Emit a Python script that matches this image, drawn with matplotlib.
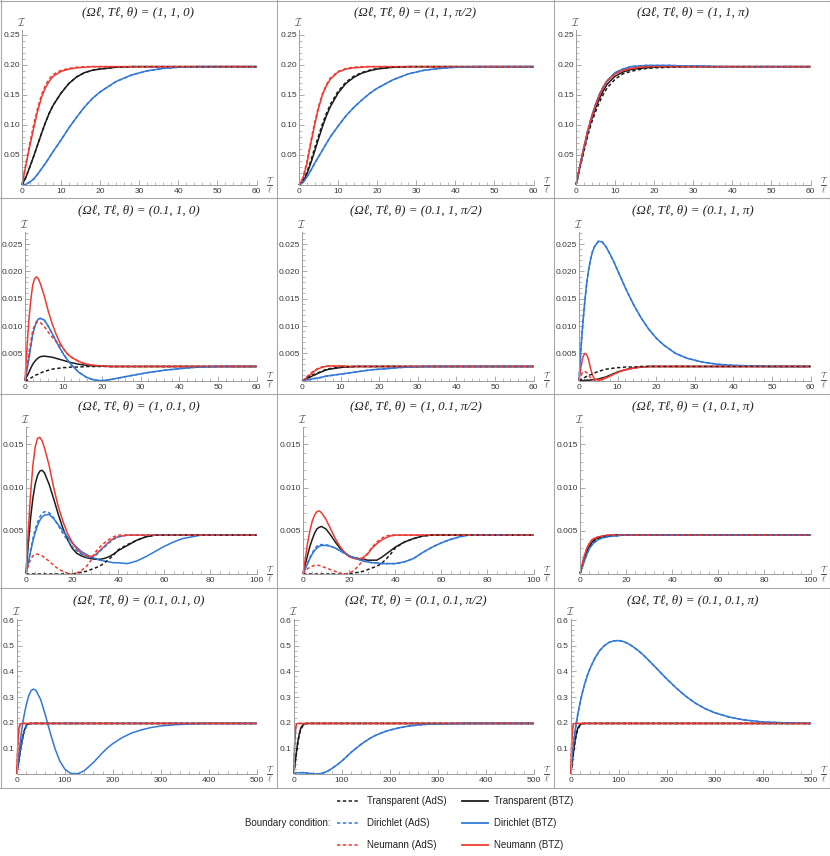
import matplotlib
matplotlib.use("Agg")
import matplotlib.pyplot as plt
from matplotlib.lines import Line2D
from matplotlib.ticker import MultipleLocator, FuncFormatter

plt.rcParams['mathtext.fontset'] = 'cm'
plt.rcParams['font.family'] = ['Liberation Sans', 'DejaVu Sans']

# ---------------- data ----------------
series_names = ['Transparent (AdS)', 'Transparent (BTZ)', 'Dirichlet (AdS)',
                'Dirichlet (BTZ)', 'Neumann (AdS)', 'Neumann (BTZ)']

titles = ['(Ωℓ, Tℓ, θ) = (1, 1, 0)', '(Ωℓ, Tℓ, θ) = (1, 1, π/2)', '(Ωℓ, Tℓ, θ) = (1, 1, π)',
          '(Ωℓ, Tℓ, θ) = (0.1, 1, 0)', '(Ωℓ, Tℓ, θ) = (0.1, 1, π/2)', '(Ωℓ, Tℓ, θ) = (0.1, 1, π)',
          '(Ωℓ, Tℓ, θ) = (1, 0.1, 0)', '(Ωℓ, Tℓ, θ) = (1, 0.1, π/2)', '(Ωℓ, Tℓ, θ) = (1, 0.1, π)',
          '(Ωℓ, Tℓ, θ) = (0.1, 0.1, 0)', '(Ωℓ, Tℓ, θ) = (0.1, 0.1, π/2)', '(Ωℓ, Tℓ, θ) = (0.1, 0.1, π)']

# row 1 (Tℓ = 1, Ωℓ = 1)
tau_r1 = [0, 1, 2, 3, 4, 5, 6, 7, 8, 10, 12, 14, 16, 18, 20, 24, 28, 32, 36, 40, 45, 50, 60]

a_trans_ads = [0, .013, .030, .048, .067, .086, .104, .120, .133, .153, .169, .180, .187, .191, .193, .196, .197, .197, .197, .197, .197, .197, .197]
a_trans_btz = [0, .013, .030, .048, .067, .086, .104, .120, .133, .153, .169, .180, .187, .191, .193, .196, .197, .197, .197, .197, .197, .197, .197]
a_dir_ads = [0, .001, .005, .010, .018, .027, .036, .046, .056, .075, .095, .113, .130, .144, .155, .172, .183, .190, .194, .196, .197, .197, .197]
a_dir_btz = [0, .001, .005, .010, .018, .027, .036, .046, .056, .075, .095, .113, .130, .144, .155, .172, .183, .190, .194, .196, .197, .197, .197]
a_neu_ads = [0, .036, .070, .101, .128, .150, .166, .177, .184, .191, .194, .196, .197, .197, .197, .197, .197, .197, .197, .197, .197, .197, .197]
a_neu_btz = [0, .033, .065, .095, .123, .146, .162, .173, .181, .189, .193, .195, .196, .197, .197, .197, .197, .197, .197, .197, .197, .197, .197]

b_trans_ads = [0, .006, .021, .040, .061, .082, .102, .119, .134, .156, .171, .181, .187, .191, .194, .196, .197, .197, .197, .197, .197, .197, .197]
b_trans_btz = [0, .005, .018, .036, .056, .077, .097, .115, .130, .153, .169, .179, .186, .190, .193, .196, .197, .197, .197, .197, .197, .197, .197]
b_dir_ads = [0, .004, .013, .024, .036, .047, .058, .069, .080, .098, .115, .129, .141, .152, .161, .175, .185, .191, .194, .196, .197, .197, .197]
b_dir_btz = [0, .004, .013, .024, .036, .047, .058, .069, .080, .098, .115, .129, .141, .152, .161, .175, .185, .191, .194, .196, .197, .197, .197]
b_neu_ads = [0, .012, .038, .072, .104, .131, .152, .167, .178, .189, .194, .196, .197, .197, .197, .197, .197, .197, .197, .197, .197, .197, .197]
b_neu_btz = [0, .010, .035, .068, .100, .128, .150, .165, .176, .188, .193, .195, .196, .197, .197, .197, .197, .197, .197, .197, .197, .197, .197]

c_trans_ads = [0, .028, .055, .082, .104, .122, .138, .151, .162, .176, .185, .189, .192, .194, .195, .196, .197, .197, .197, .197, .197, .197, .197]
c_trans_btz = [0, .030, .059, .087, .109, .128, .144, .157, .168, .181, .188, .192, .194, .195, .196, .197, .197, .197, .197, .197, .197, .197, .197]
c_dir_ads = [0, .032, .062, .090, .114, .134, .151, .164, .174, .187, .193, .197, .198, .199, .199, .199, .198, .198, .197, .197, .197, .197, .197]
c_dir_btz = [0, .032, .062, .090, .114, .134, .151, .164, .174, .187, .193, .197, .198, .199, .199, .199, .198, .198, .197, .197, .197, .197, .197]
c_neu_ads = [0, .032, .062, .090, .113, .133, .150, .163, .173, .185, .191, .194, .196, .197, .197, .197, .197, .197, .197, .197, .197, .197, .197]
c_neu_btz = [0, .032, .062, .090, .113, .133, .150, .163, .173, .185, .191, .194, .196, .197, .197, .197, .197, .197, .197, .197, .197, .197, .197]

# row 2
tau_r2 = [0, 0.5, 1, 1.5, 2, 2.5, 3, 3.5, 4, 5, 6, 7, 8, 9, 10, 11, 12, 14, 16, 18, 20, 22, 25, 28, 32, 36, 40, 45, 50, 60]

d_trans_ads = [0, .0001, .0003, .0005, .0007, .0009, .0011, .0012, .0014, .0017, .0019, .0021, .0022, .0023, .0024, .0024, .0025, .0025, .0026, .0026, .0026, .0026, .0026, .0026, .0026, .0026, .0026, .0026, .0026, .0026]
d_trans_btz = [0, .0008, .0015, .0023, .0030, .0035, .0039, .0042, .0044, .0045, .0044, .0043, .0041, .0039, .0037, .0035, .0033, .0030, .0028, .0027, .0027, .0026, .0026, .0026, .0026, .0026, .0026, .0026, .0026, .0026]
d_dir_ads = [0, .0020, .0040, .0063, .0085, .0098, .0108, .0113, .0114, .0111, .0100, .0087, .0073, .0060, .0048, .0038, .0029, .0015, .0006, .0001, .0000, .0002, .0006, .0010, .0015, .0019, .0022, .0025, .0026, .0026]
d_dir_btz = [0, .0020, .0040, .0063, .0085, .0098, .0108, .0113, .0114, .0111, .0100, .0087, .0073, .0060, .0048, .0038, .0029, .0015, .0006, .0001, .0000, .0002, .0006, .0010, .0015, .0019, .0022, .0025, .0026, .0026]
d_neu_ads = [0, .0027, .0050, .0072, .0092, .0102, .0107, .0108, .0106, .0099, .0089, .0080, .0072, .0066, .0058, .0049, .0043, .0035, .0030, .0028, .0027, .0026, .0026, .0026, .0026, .0026, .0026, .0026, .0026, .0026]
d_neu_btz = [0, .0060, .0110, .0148, .0175, .0187, .0190, .0186, .0177, .0155, .0128, .0105, .0086, .0070, .0058, .0049, .0043, .0035, .0030, .0028, .0027, .0026, .0026, .0026, .0026, .0026, .0026, .0026, .0026, .0026]

e_trans_ads = [0, .0002, .0004, .0006, .0008, .0010, .0011, .0013, .0014, .0017, .0020, .0022, .0023, .0024, .0025, .0025, .0026, .0026, .0026, .0026, .0026, .0026, .0026, .0026, .0026, .0026, .0026, .0026, .0026, .0026]
e_trans_btz = [0, .0001, .0003, .0005, .0006, .0008, .0010, .0011, .0013, .0016, .0019, .0021, .0022, .0023, .0024, .0025, .0025, .0026, .0026, .0026, .0026, .0026, .0026, .0026, .0026, .0026, .0026, .0026, .0026, .0026]
e_dir_ads = [0, .0000, .0001, .0002, .0002, .0003, .0004, .0004, .0005, .0006, .0008, .0009, .0010, .0011, .0012, .0013, .0014, .0016, .0018, .0020, .0021, .0022, .0024, .0025, .0026, .0026, .0026, .0026, .0026, .0026]
e_dir_btz = [0, .0000, .0001, .0002, .0002, .0003, .0004, .0004, .0005, .0006, .0008, .0009, .0010, .0011, .0012, .0013, .0014, .0016, .0018, .0020, .0021, .0022, .0024, .0025, .0026, .0026, .0026, .0026, .0026, .0026]
e_neu_ads = [0, .0002, .0005, .0009, .0012, .0015, .0018, .0020, .0022, .0025, .0026, .0027, .0027, .0026, .0026, .0026, .0026, .0026, .0026, .0026, .0026, .0026, .0026, .0026, .0026, .0026, .0026, .0026, .0026, .0026]
e_neu_btz = [0, .0001, .0004, .0007, .0010, .0013, .0016, .0019, .0021, .0024, .0026, .0027, .0027, .0027, .0027, .0027, .0026, .0026, .0026, .0026, .0026, .0026, .0026, .0026, .0026, .0026, .0026, .0026, .0026, .0026]

f_trans_ads = [0, .0002, .0004, .0006, .0008, .0010, .0011, .0012, .0014, .0017, .0019, .0021, .0022, .0023, .0024, .0024, .0025, .0025, .0026, .0026, .0026, .0026, .0026, .0026, .0026, .0026, .0026, .0026, .0026, .0026]
f_trans_btz = [0, .0000, .0000, .0001, .0001, .0001, .0001, .0002, .0002, .0003, .0005, .0007, .0010, .0013, .0016, .0018, .0020, .0023, .0025, .0026, .0026, .0026, .0026, .0026, .0026, .0026, .0026, .0026, .0026, .0026]
f_dir_ads = [0, .0060, .0105, .0145, .0178, .0203, .0222, .0236, .0245, .0255, .0254, .0245, .0232, .0218, .0202, .0186, .0170, .0141, .0116, .0095, .0078, .0065, .0050, .0041, .0034, .0030, .0028, .0027, .0026, .0026]
f_dir_btz = [0, .0060, .0105, .0145, .0178, .0203, .0222, .0236, .0245, .0255, .0254, .0245, .0232, .0218, .0202, .0186, .0170, .0141, .0116, .0095, .0078, .0065, .0050, .0041, .0034, .0030, .0028, .0027, .0026, .0026]
f_neu_ads = [0, .0010, .0016, .0017, .0015, .0010, .0005, .0002, .0001, .0001, .0003, .0006, .0009, .0012, .0015, .0018, .0020, .0023, .0025, .0026, .0026, .0026, .0026, .0026, .0026, .0026, .0026, .0026, .0026, .0026]
f_neu_btz = [0, .0025, .0043, .0050, .0048, .0038, .0022, .0010, .0003, .0001, .0002, .0005, .0008, .0012, .0015, .0018, .0020, .0023, .0025, .0026, .0026, .0026, .0026, .0026, .0026, .0026, .0026, .0026, .0026, .0026]

# row 3
tau_r3 = [0, 1, 2, 3, 4, 5, 6, 7, 8, 10, 12, 14, 16, 18, 20, 22, 24, 26, 28, 30, 32, 34, 36, 38, 40, 44, 48, 52, 56, 60, 64, 68, 72, 76, 80, 90, 100]

g_trans_ads = [0, 0, 0, 0, 0, 0, 0, 0, 0, 0, 0, 0, 0, 0, 0, .0001, .0002, .0003, .0005, .0007, .0009, .0013, .0017, .0022, .0028, .0034, .0039, .0043, .0045, .0045, .0045, .0045, .0045, .0045, .0045, .0045, .0045]
g_trans_btz = [0, .0035, .0065, .0088, .0104, .0114, .0119, .0120, .0117, .0104, .0087, .0069, .0053, .0040, .0030, .0024, .0021, .0019, .0018, .0017, .0017, .0018, .0020, .0023, .0027, .0033, .0039, .0043, .0045, .0045, .0045, .0045, .0045, .0045, .0045, .0045, .0045]
g_dir_ads = [0, .0013, .0028, .0041, .0052, .0060, .0066, .0070, .0072, .0071, .0065, .0056, .0047, .0039, .0032, .0027, .0023, .0020, .0019, .0021, .0026, .0031, .0036, .0040, .0043, .0045, .0045, .0045, .0045, .0045, .0045, .0045, .0045, .0045, .0045, .0045, .0045]
g_dir_btz = [0, .0012, .0026, .0038, .0048, .0056, .0062, .0066, .0068, .0069, .0064, .0057, .0050, .0043, .0036, .0031, .0026, .0023, .0020, .0018, .0016, .0015, .0014, .0013, .0013, .0012, .0015, .0020, .0026, .0032, .0037, .0041, .0043, .0045, .0045, .0045, .0045]
g_neu_ads = [0, .0010, .0017, .0021, .0023, .0023, .0022, .0021, .0019, .0015, .0010, .0006, .0003, .0001, .0000, .0001, .0004, .0008, .0015, .0025, .0031, .0036, .0040, .0043, .0045, .0045, .0045, .0045, .0045, .0045, .0045, .0045, .0045, .0045, .0045, .0045, .0045]
g_neu_btz = [0, .0050, .0093, .0126, .0147, .0157, .0158, .0154, .0146, .0126, .0100, .0078, .0061, .0047, .0037, .0029, .0024, .0021, .0020, .0022, .0027, .0032, .0037, .0041, .0043, .0045, .0045, .0045, .0045, .0045, .0045, .0045, .0045, .0045, .0045, .0045, .0045]

h_trans_ads = [0, 0, 0, 0, 0, 0, 0, 0, 0, 0, 0, 0, 0, 0, 0, .0001, .0002, .0003, .0005, .0007, .0009, .0012, .0017, .0023, .0030, .0037, .0041, .0044, .0045, .0045, .0045, .0045, .0045, .0045, .0045, .0045, .0045]
h_trans_btz = [0, .0011, .0022, .0032, .0040, .0047, .0052, .0054, .0055, .0052, .0045, .0037, .0030, .0025, .0021, .0019, .0018, .0017, .0016, .0016, .0016, .0019, .0023, .0027, .0031, .0037, .0041, .0044, .0045, .0045, .0045, .0045, .0045, .0045, .0045, .0045, .0045]
h_dir_ads = [0, .0007, .0013, .0019, .0024, .0029, .0032, .0034, .0034, .0034, .0032, .0030, .0027, .0024, .0021, .0019, .0017, .0015, .0014, .0013, .0013, .0012, .0012, .0012, .0012, .0014, .0018, .0025, .0031, .0036, .0040, .0043, .0045, .0045, .0045, .0045, .0045]
h_dir_btz = [0, .0006, .0012, .0018, .0023, .0027, .0030, .0032, .0033, .0033, .0032, .0030, .0027, .0024, .0021, .0019, .0017, .0015, .0014, .0013, .0013, .0012, .0012, .0012, .0012, .0014, .0018, .0025, .0031, .0036, .0040, .0043, .0045, .0045, .0045, .0045, .0045]
h_neu_ads = [0, .0003, .0006, .0008, .0009, .0010, .0010, .0010, .0009, .0007, .0005, .0003, .0001, .0000, .0001, .0004, .0009, .0016, .0024, .0031, .0037, .0041, .0044, .0045, .0045, .0045, .0045, .0045, .0045, .0045, .0045, .0045, .0045, .0045, .0045, .0045, .0045]
h_neu_btz = [0, .0018, .0036, .0050, .0061, .0068, .0072, .0073, .0071, .0063, .0052, .0041, .0032, .0025, .0020, .0018, .0017, .0019, .0023, .0030, .0035, .0039, .0042, .0044, .0045, .0045, .0045, .0045, .0045, .0045, .0045, .0045, .0045, .0045, .0045, .0045, .0045]

i_trans_ads = [0, .0009, .0018, .0025, .0031, .0035, .0038, .0040, .0041, .0043, .0044, .0044, .0045, .0045, .0045, .0045, .0045, .0045, .0045, .0045, .0045, .0045, .0045, .0045, .0045, .0045, .0045, .0045, .0045, .0045, .0045, .0045, .0045, .0045, .0045, .0045, .0045]
i_trans_btz = [0, .0010, .0019, .0027, .0032, .0036, .0039, .0041, .0042, .0043, .0044, .0045, .0045, .0045, .0045, .0045, .0045, .0045, .0045, .0045, .0045, .0045, .0045, .0045, .0045, .0045, .0045, .0045, .0045, .0045, .0045, .0045, .0045, .0045, .0045, .0045, .0045]
i_dir_ads = [0, .0008, .0016, .0023, .0029, .0033, .0036, .0038, .0040, .0042, .0043, .0044, .0044, .0045, .0045, .0045, .0045, .0045, .0045, .0045, .0045, .0045, .0045, .0045, .0045, .0045, .0045, .0045, .0045, .0045, .0045, .0045, .0045, .0045, .0045, .0045, .0045]
i_dir_btz = [0, .0008, .0016, .0023, .0029, .0033, .0036, .0038, .0040, .0042, .0043, .0044, .0044, .0045, .0045, .0045, .0045, .0045, .0045, .0045, .0045, .0045, .0045, .0045, .0045, .0045, .0045, .0045, .0045, .0045, .0045, .0045, .0045, .0045, .0045, .0045, .0045]
i_neu_ads = [0, .0012, .0022, .0030, .0035, .0039, .0041, .0042, .0043, .0044, .0045, .0045, .0045, .0045, .0045, .0045, .0045, .0045, .0045, .0045, .0045, .0045, .0045, .0045, .0045, .0045, .0045, .0045, .0045, .0045, .0045, .0045, .0045, .0045, .0045, .0045, .0045]
i_neu_btz = [0, .0012, .0022, .0030, .0035, .0039, .0041, .0042, .0043, .0044, .0045, .0045, .0045, .0045, .0045, .0045, .0045, .0045, .0045, .0045, .0045, .0045, .0045, .0045, .0045, .0045, .0045, .0045, .0045, .0045, .0045, .0045, .0045, .0045, .0045, .0045, .0045]

# row 4
tau_r4 = [0, 2, 4, 6, 8, 10, 12, 15, 20, 25, 30, 35, 40, 50, 60, 70, 80, 90, 100, 110, 120, 130, 140, 150, 160, 170, 180, 190, 200, 220, 240, 260, 280, 300, 330, 360, 400, 450, 500]

j_trans_ads = [0, .020, .045, .070, .095, .115, .135, .160, .187, .195, .197, .197, .197, .197, .197, .197, .197, .197, .197, .197, .197, .197, .197, .197, .197, .197, .197, .197, .197, .197, .197, .197, .197, .197, .197, .197, .197, .197, .197]
j_trans_btz = [0, .025, .050, .075, .100, .120, .140, .165, .190, .196, .197, .197, .197, .197, .197, .197, .197, .197, .197, .197, .197, .197, .197, .197, .197, .197, .197, .197, .197, .197, .197, .197, .197, .197, .197, .197, .197, .197, .197]
j_dir_ads = [0, .020, .045, .070, .095, .115, .135, .160, .187, .195, .197, .197, .197, .197, .197, .197, .197, .197, .197, .197, .197, .197, .197, .197, .197, .197, .197, .197, .197, .197, .197, .197, .197, .197, .197, .197, .197, .197, .197]
j_dir_btz = [0, .035, .070, .100, .135, .165, .190, .225, .270, .305, .325, .331, .326, .290, .228, .160, .098, .050, .020, .005, .000, .003, .012, .028, .045, .065, .085, .103, .118, .142, .160, .172, .181, .187, .192, .195, .197, .197, .197]
j_neu_ads = [0, .090, .160, .185, .194, .197, .197, .197, .197, .197, .197, .197, .197, .197, .197, .197, .197, .197, .197, .197, .197, .197, .197, .197, .197, .197, .197, .197, .197, .197, .197, .197, .197, .197, .197, .197, .197, .197, .197]
j_neu_btz = [0, .100, .170, .190, .195, .197, .197, .197, .197, .197, .197, .197, .197, .197, .197, .197, .197, .197, .197, .197, .197, .197, .197, .197, .197, .197, .197, .197, .197, .197, .197, .197, .197, .197, .197, .197, .197, .197, .197]

k_trans_ads = [0, .025, .055, .085, .110, .135, .155, .175, .190, .196, .197, .197, .197, .197, .197, .197, .197, .197, .197, .197, .197, .197, .197, .197, .197, .197, .197, .197, .197, .197, .197, .197, .197, .197, .197, .197, .197, .197, .197]
k_trans_btz = [0, .030, .060, .090, .120, .140, .160, .180, .193, .197, .197, .197, .197, .197, .197, .197, .197, .197, .197, .197, .197, .197, .197, .197, .197, .197, .197, .197, .197, .197, .197, .197, .197, .197, .197, .197, .197, .197, .197]
k_dir_ads = [0, .002, .004, .005, .005, .005, .005, .005, .005, .004, .003, .002, .001, .000, .003, .010, .022, .035, .050, .067, .085, .100, .115, .128, .140, .150, .158, .165, .171, .180, .187, .191, .194, .195, .196, .197, .197, .197, .197]
k_dir_btz = [0, .002, .004, .005, .005, .005, .005, .005, .005, .004, .003, .002, .001, .000, .003, .010, .022, .035, .050, .067, .085, .100, .115, .128, .140, .150, .158, .165, .171, .180, .187, .191, .194, .195, .196, .197, .197, .197, .197]
k_neu_ads = [0, .110, .175, .193, .197, .197, .197, .197, .197, .197, .197, .197, .197, .197, .197, .197, .197, .197, .197, .197, .197, .197, .197, .197, .197, .197, .197, .197, .197, .197, .197, .197, .197, .197, .197, .197, .197, .197, .197]
k_neu_btz = [0, .120, .180, .195, .197, .197, .197, .197, .197, .197, .197, .197, .197, .197, .197, .197, .197, .197, .197, .197, .197, .197, .197, .197, .197, .197, .197, .197, .197, .197, .197, .197, .197, .197, .197, .197, .197, .197, .197]

l_trans_ads = [0, .025, .055, .085, .110, .135, .155, .175, .190, .196, .197, .197, .197, .197, .197, .197, .197, .197, .197, .197, .197, .197, .197, .197, .197, .197, .197, .197, .197, .197, .197, .197, .197, .197, .197, .197, .197, .197, .197]
l_trans_btz = [0, .030, .060, .090, .120, .140, .160, .180, .193, .197, .197, .197, .197, .197, .197, .197, .197, .197, .197, .197, .197, .197, .197, .197, .197, .197, .197, .197, .197, .197, .197, .197, .197, .197, .197, .197, .197, .197, .197]
l_dir_ads = [0, .045, .085, .120, .150, .178, .202, .235, .282, .322, .356, .385, .410, .450, .480, .500, .513, .519, .520, .516, .508, .496, .482, .466, .448, .429, .410, .390, .371, .335, .303, .276, .255, .239, .222, .211, .203, .199, .197]
l_dir_btz = [0, .045, .085, .120, .150, .178, .202, .235, .282, .322, .356, .385, .410, .450, .480, .500, .513, .519, .520, .516, .508, .496, .482, .466, .448, .429, .410, .390, .371, .335, .303, .276, .255, .239, .222, .211, .203, .199, .197]
l_neu_ads = [0, .110, .175, .193, .197, .197, .197, .197, .197, .197, .197, .197, .197, .197, .197, .197, .197, .197, .197, .197, .197, .197, .197, .197, .197, .197, .197, .197, .197, .197, .197, .197, .197, .197, .197, .197, .197, .197, .197]
l_neu_btz = [0, .120, .180, .195, .197, .197, .197, .197, .197, .197, .197, .197, .197, .197, .197, .197, .197, .197, .197, .197, .197, .197, .197, .197, .197, .197, .197, .197, .197, .197, .197, .197, .197, .197, .197, .197, .197, .197, .197]

# axis ranges / ticks per row
row_xmax = [60, 60, 100, 500]
row_xmajor = [10, 10, 20, 100]
row_xminor = [2, 2, 4, 20]
row_ytop = [0.258, 0.0272, 0.0170, 0.604]
row_ymajor = [0.05, 0.005, 0.005, 0.1]
row_yminor = [0.01, 0.001, 0.001, 0.02]
row_ydec = [2, 3, 3, 1]

panels = [
    (tau_r1, [a_trans_ads, a_trans_btz, a_dir_ads, a_dir_btz, a_neu_ads, a_neu_btz]),
    (tau_r1, [b_trans_ads, b_trans_btz, b_dir_ads, b_dir_btz, b_neu_ads, b_neu_btz]),
    (tau_r1, [c_trans_ads, c_trans_btz, c_dir_ads, c_dir_btz, c_neu_ads, c_neu_btz]),
    (tau_r2, [d_trans_ads, d_trans_btz, d_dir_ads, d_dir_btz, d_neu_ads, d_neu_btz]),
    (tau_r2, [e_trans_ads, e_trans_btz, e_dir_ads, e_dir_btz, e_neu_ads, e_neu_btz]),
    (tau_r2, [f_trans_ads, f_trans_btz, f_dir_ads, f_dir_btz, f_neu_ads, f_neu_btz]),
    (tau_r3, [g_trans_ads, g_trans_btz, g_dir_ads, g_dir_btz, g_neu_ads, g_neu_btz]),
    (tau_r3, [h_trans_ads, h_trans_btz, h_dir_ads, h_dir_btz, h_neu_ads, h_neu_btz]),
    (tau_r3, [i_trans_ads, i_trans_btz, i_dir_ads, i_dir_btz, i_neu_ads, i_neu_btz]),
    (tau_r4, [j_trans_ads, j_trans_btz, j_dir_ads, j_dir_btz, j_neu_ads, j_neu_btz]),
    (tau_r4, [k_trans_ads, k_trans_btz, k_dir_ads, k_dir_btz, k_neu_ads, k_neu_btz]),
    (tau_r4, [l_trans_ads, l_trans_btz, l_dir_ads, l_dir_btz, l_neu_ads, l_neu_btz]),
]

# ---------------- style / layout ----------------
BLACK = '#1c1c1c'
BLUE = '#3178d8'
RED = '#ec3b33'
colors = [BLACK, BLACK, BLUE, BLUE, RED, RED]
dashed = [True, False, True, False, True, False]
FRAME = '#a8a8a8'
AXC = '#9c9c9c'
TXT = '#3a3a3a'
DASH = (0, (2.2, 1.6))

W, H = 830, 856
fig = plt.figure(figsize=(W / 100, H / 100), dpi=100)

panel_left = [0, 277, 554]
panel_top = [0, 198, 394, 588]
panel_bottom = 788
ax_ox = [22, 25, 26, 16.7]
ax_y0 = [185, 182.7, 180, 186]
ax_yt = [30, 34, 33, 31]
ax_xend = 256.5


def fx(x):
    return x / W


def fy(y):
    return 1 - y / H


# panel frames
for x in [0.5, 277, 554, 829.5]:
    fig.add_artist(Line2D([fx(x), fx(x)], [fy(0), fy(panel_bottom)], transform=fig.transFigure,
                          color=FRAME, lw=0.8))
for y in [0.5, 198, 394, 588, panel_bottom]:
    fig.add_artist(Line2D([fx(0), fx(W)], [fy(y), fy(y)], transform=fig.transFigure,
                          color=FRAME, lw=0.8))

for p, (tau, ys) in enumerate(panels):
    r, c = divmod(p, 3)
    pl, pt = panel_left[c], panel_top[r]
    left = pl + ax_ox[r]
    ax = fig.add_axes([fx(left), fy(pt + ax_y0[r]), (ax_xend - ax_ox[r]) / W,
                       (ax_y0[r] - ax_yt[r]) / H])
    ax.set_xlim(0, row_xmax[r])
    ax.set_ylim(0, row_ytop[r])
    ax.patch.set_alpha(0)
    for s in ['top', 'right']:
        ax.spines[s].set_visible(False)
    for s in ['left', 'bottom']:
        ax.spines[s].set_color(AXC)
        ax.spines[s].set_linewidth(0.7)
    ax.xaxis.set_major_locator(MultipleLocator(row_xmajor[r]))
    ax.xaxis.set_minor_locator(MultipleLocator(row_xminor[r]))
    ax.yaxis.set_major_locator(MultipleLocator(row_ymajor[r]))
    ax.yaxis.set_minor_locator(MultipleLocator(row_yminor[r]))
    dec = row_ydec[r]
    ax.yaxis.set_major_formatter(FuncFormatter(
        lambda v, pos, d=dec: '' if abs(v) < 1e-12 else f'{v:.{d}f}'))
    ax.xaxis.set_major_formatter(FuncFormatter(lambda v, pos: f'{v:g}'))
    ax.tick_params(which='major', direction='in', length=3.6, width=0.6, color=AXC,
                   labelsize=6.1, labelcolor=TXT, pad=1.6)
    ax.tick_params(axis='x', which='major', pad=2.5)
    ax.tick_params(which='minor', direction='in', length=2.0, width=0.5, color=AXC)

    # solids first, then dashed on top
    order = [1, 3, 5, 0, 2, 4]
    for k in order:
        ax.plot(tau, ys[k], color=colors[k], lw=1.1,
                linestyle=DASH if dashed[k] else '-', clip_on=False,
                solid_capstyle='butt')

    ax.annotate(r'$\mathcal{I}$', xy=(0, 1), xycoords='axes fraction', xytext=(0, 1.5),
                textcoords='offset points', ha='center', va='bottom', fontsize=8, color='#555555')
    ax.annotate(r'$\frac{\mathcal{T}}{\ell}$', xy=(1, 0), xycoords='axes fraction',
                xytext=(10, 0), textcoords='offset points', ha='center', va='center',
                fontsize=8.5, color='#555555')

    fig.text(fx(pl + 138.5), fy(pt + 12.5), titles[p], ha='center', va='center',
             fontsize=9.4, family=['Liberation Serif', 'DejaVu Serif'], style='italic',
             color='#222222')

# ---------------- legend ----------------
leg_y = [801, 823, 845]
LEGFS = 7.0
fig.text(fx(330), fy(leg_y[1]), 'Boundary condition:', ha='right', va='center',
         fontsize=LEGFS, color='#222222')
for i in range(3):
    y = fy(leg_y[i])
    k_ads, k_btz = 2 * i, 2 * i + 1
    fig.add_artist(Line2D([fx(337), fx(360)], [y, y], transform=fig.transFigure,
                          color=colors[k_ads], lw=1.1, linestyle=DASH))
    fig.text(fx(367), y, series_names[k_ads], ha='left', va='center', fontsize=LEGFS, color='#222222')
    fig.add_artist(Line2D([fx(462), fx(488)], [y, y], transform=fig.transFigure,
                          color=colors[k_btz], lw=1.3))
    fig.text(fx(494), y, series_names[k_btz], ha='left', va='center', fontsize=LEGFS, color='#222222')

fig.savefig('out.png', dpi=100)
